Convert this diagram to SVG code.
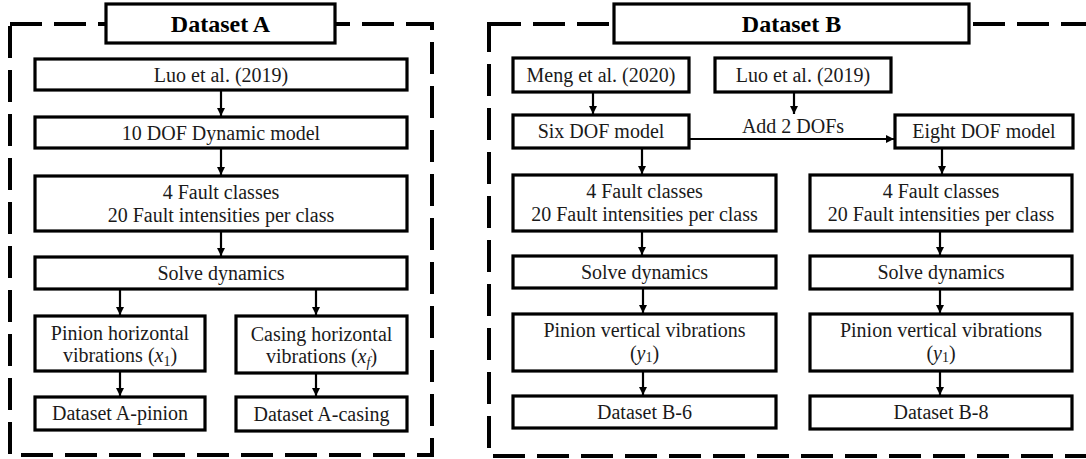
<svg xmlns="http://www.w3.org/2000/svg" width="1086" height="459" viewBox="0 0 1086 459">
<style>
.frame{fill:none;stroke:#000;stroke-width:4;stroke-dasharray:32 12}
.box{fill:#fff;stroke:#000;stroke-width:3.2}
.t{font-family:"Liberation Serif","Times New Roman",serif;font-size:20px;fill:#1a1a1a;text-anchor:middle}
.title{font-family:"Liberation Serif","Times New Roman",serif;font-size:24px;font-weight:bold;fill:#000;text-anchor:middle}
.m{font-style:italic}
.c{fill:none;stroke:#000;stroke-width:2.2;marker-end:url(#ah)}
</style>
<defs>
<marker id="ah" viewBox="0 0 10 10" refX="10" refY="5" markerWidth="8" markerHeight="8" markerUnits="userSpaceOnUse" orient="auto">
<path d="M0,0 L10,5 L0,10 z" fill="#000"/>
</marker>
</defs>
<rect width="1086" height="459" fill="#fff"/>
<rect class="frame" x="10" y="24" width="422" height="431"/>
<rect class="frame" x="489" y="24" width="660" height="432"/>
<g id="connectors">
<line class="c" x1="221" y1="90" x2="221" y2="116"/>
<line class="c" x1="221" y1="148" x2="221" y2="175"/>
<line class="c" x1="221" y1="231" x2="221" y2="256"/>
<line class="c" x1="120" y1="289" x2="120" y2="315"/>
<line class="c" x1="316" y1="289" x2="316" y2="315"/>
<line class="c" x1="120" y1="371" x2="120" y2="396"/>
<line class="c" x1="316" y1="373" x2="316" y2="396"/>
<line class="c" x1="593" y1="92" x2="593" y2="114"/>
<line class="c" x1="794" y1="92" x2="794" y2="114"/>
<line class="c" x1="689" y1="139" x2="894" y2="139"/>
<line class="c" x1="642" y1="148" x2="642" y2="174"/>
<line class="c" x1="942" y1="148" x2="942" y2="174"/>
<line class="c" x1="642" y1="231" x2="642" y2="255"/>
<line class="c" x1="940" y1="231" x2="940" y2="255"/>
<line class="c" x1="643" y1="288" x2="643" y2="313"/>
<line class="c" x1="940" y1="289" x2="940" y2="313"/>
<line class="c" x1="643" y1="371" x2="643" y2="395"/>
<line class="c" x1="940" y1="371" x2="940" y2="395"/>
<text class="t" x="793" y="133">Add 2 DOFs</text>
</g>
<g id="titleA"><rect class="box" x="106" y="4" width="229" height="39"/><text class="title" x="220.5" y="32">Dataset A</text></g>
<g id="luoA"><rect class="box" x="35" y="59" width="372" height="31"/><text class="t" x="221" y="82">Luo et al. (2019)</text></g>
<g id="dof10"><rect class="box" x="35" y="117" width="372" height="31"/><text class="t" x="221" y="140">10 DOF Dynamic model</text></g>
<g id="faultA"><rect class="box" x="35" y="176" width="372" height="55"/><text class="t" x="221" y="199">4 Fault classes</text><text class="t" x="221" y="222">20 Fault intensities per class</text></g>
<g id="solveA"><rect class="box" x="35" y="257" width="372" height="32"/><text class="t" x="221" y="280">Solve dynamics</text></g>
<g id="pinionH"><rect class="box" x="35" y="316" width="170" height="55"/><text class="t" x="120" y="340">Pinion horizontal</text><text class="t" x="120" y="362">vibrations (<tspan class="m">x</tspan><tspan font-size="14" dy="4">1</tspan><tspan dy="-4">)</tspan></text></g>
<g id="casingH"><rect class="box" x="236" y="316" width="171" height="57"/><text class="t" x="321.5" y="341">Casing horizontal</text><text class="t" x="321.5" y="363">vibrations (<tspan class="m">x</tspan><tspan class="m" font-size="14" dy="4">f</tspan><tspan dy="-4">)</tspan></text></g>
<g id="dsApinion"><rect class="box" x="35" y="397" width="170" height="33"/><text class="t" x="120" y="420">Dataset A-pinion</text></g>
<g id="dsAcasing"><rect class="box" x="236" y="397" width="171" height="34"/><text class="t" x="321.5" y="421">Dataset A-casing</text></g>
<g id="titleB"><rect class="box" x="614" y="4" width="355" height="39"/><text class="title" x="791.5" y="32">Dataset B</text></g>
<g id="meng"><rect class="box" x="513" y="58" width="176" height="34"/><text class="t" x="601" y="82">Meng et al. (2020)</text></g>
<g id="luoB"><rect class="box" x="715" y="58" width="176" height="34"/><text class="t" x="803" y="82">Luo et al. (2019)</text></g>
<g id="dof6"><rect class="box" x="513" y="115" width="176" height="33"/><text class="t" x="601" y="138">Six DOF model</text></g>
<g id="dof8"><rect class="box" x="895" y="115" width="178" height="33"/><text class="t" x="984" y="138">Eight DOF model</text></g>
<g id="faultB6"><rect class="box" x="513" y="175" width="263" height="56"/><text class="t" x="644.5" y="198">4 Fault classes</text><text class="t" x="644.5" y="221">20 Fault intensities per class</text></g>
<g id="faultB8"><rect class="box" x="810" y="175" width="262" height="56"/><text class="t" x="941" y="198">4 Fault classes</text><text class="t" x="941" y="221">20 Fault intensities per class</text></g>
<g id="solveB6"><rect class="box" x="513" y="256" width="263" height="32"/><text class="t" x="644.5" y="279">Solve dynamics</text></g>
<g id="solveB8"><rect class="box" x="810" y="256" width="262" height="33"/><text class="t" x="941" y="279">Solve dynamics</text></g>
<g id="pinionV6"><rect class="box" x="513" y="314" width="263" height="57"/><text class="t" x="644.5" y="337">Pinion vertical vibrations</text><text class="t" x="644.5" y="360">(<tspan class="m">y</tspan><tspan font-size="14" dy="2">1</tspan><tspan dy="-2">)</tspan></text></g>
<g id="pinionV8"><rect class="box" x="810" y="314" width="262" height="57"/><text class="t" x="941" y="337">Pinion vertical vibrations</text><text class="t" x="941" y="360">(<tspan class="m">y</tspan><tspan font-size="14" dy="2">1</tspan><tspan dy="-2">)</tspan></text></g>
<g id="dsB6"><rect class="box" x="513" y="396" width="263" height="32"/><text class="t" x="644.5" y="419">Dataset B-6</text></g>
<g id="dsB8"><rect class="box" x="810" y="396" width="262" height="33"/><text class="t" x="941" y="419">Dataset B-8</text></g>
</svg>
